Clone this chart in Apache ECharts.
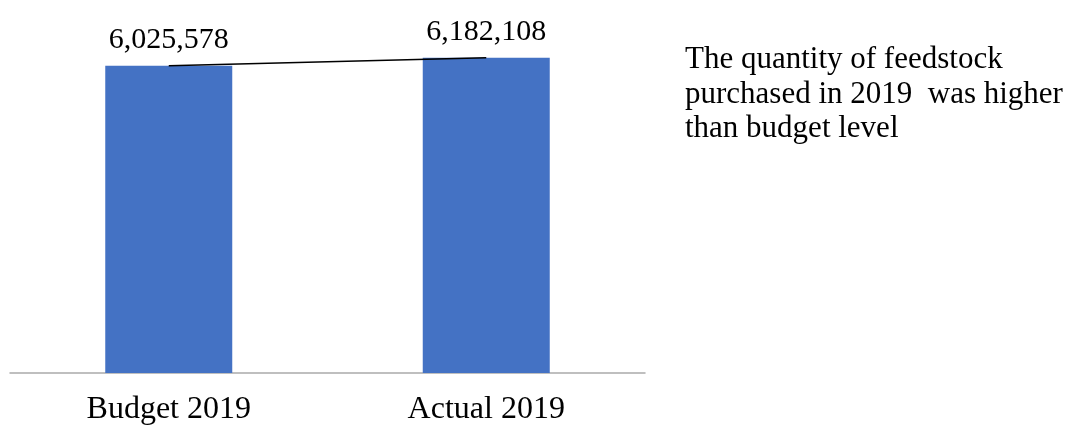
<!DOCTYPE html>
<html>
<head>
<meta charset="utf-8">
<script src="https://cdn.jsdelivr.net/npm/echarts@6/dist/echarts.min.js"></script>
<style>
  html, body { margin: 0; padding: 0; background: #ffffff; }
  #chart { width: 1069px; height: 426px; }
</style>
</head>
<body>
<div id="chart"></div>
<script>
// Feedstock purchased: budget vs actual, 2019
const categories = ['Budget 2019', 'Actual 2019'];
const quantities = [6025578, 6182108];
const noteLines = [
  'The quantity of feedstock',
  'purchased in 2019  was higher',
  'than budget level'
];

const serif = '"Liberation Serif", "Times New Roman", serif';
const fmt = v => v.toLocaleString('en-US');

const chart = echarts.init(document.getElementById('chart'), null, { renderer: 'canvas' });
chart.setOption({
  animation: false,
  backgroundColor: '#ffffff',
  grid: { left: 10, right: 424, top: 16, bottom: 51 },
  xAxis: {
    type: 'category',
    data: categories,
    axisLine: { show: true, lineStyle: { color: '#ababab', width: 1.5 } },
    axisTick: { show: false },
    axisLabel: {
      margin: 21,
      fontFamily: serif,
      fontSize: 32,
      color: '#000000'
    }
  },
  yAxis: {
    type: 'value',
    min: 0,
    max: 7000000,
    show: false,
    splitLine: { show: false }
  },
  series: [
    {
      type: 'bar',
      data: quantities,
      barWidth: '40%',
      itemStyle: { color: '#4472C4' },
      label: {
        show: true,
        position: 'top',
        distance: 11,
        fontFamily: serif,
        fontSize: 30,
        color: '#000000',
        formatter: p => fmt(p.value)
      }
    },
    {
      type: 'line',
      data: quantities,
      symbol: 'none',
      z: 5,
      lineStyle: { color: '#000000', width: 1.5 }
    }
  ],
  graphic: [
    {
      type: 'text',
      left: 685,
      top: 43,
      style: {
        text: noteLines.join('\n'),
        font: '31px ' + serif,
        lineHeight: 34.5,
        fill: '#000000'
      }
    }
  ]
});
</script>
</body>
</html>
